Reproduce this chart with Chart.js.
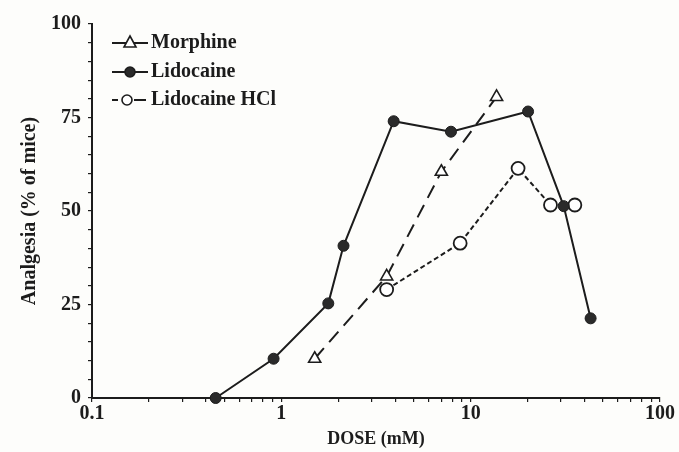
<!DOCTYPE html>
<html>
<head>
<meta charset="utf-8">
<script src="https://cdn.jsdelivr.net/npm/chart.js@4.4.0/dist/chart.umd.min.js"></script>
<style>
  html, body { margin: 0; padding: 0; background: #fdfdfb; }
  #wrap { width: 679px; height: 452px; position: relative; }
</style>
</head>
<body>
<div id="wrap"><canvas id="dose-chart" width="679" height="452"></canvas></div>
<script>
// values
const morphineDose = [1.5, 3.6, 7.0, 13.7];
const morphineAnalgesia = [10.5, 32.5, 60.5, 80.5];
const lidocaineDose = [0.45, 0.91, 1.77, 2.13, 3.92, 7.87, 20.1, 31, 43];
const lidocaineAnalgesia = [0, 10.5, 25.3, 40.7, 74, 71.2, 76.6, 51.3, 21.3];
const hclDose = [3.6, 8.8, 17.8, 26.4, 35.5];
const hclAnalgesia = [29, 41.4, 61.4, 51.6, 51.6];

const seriesNames = ['Morphine', 'Lidocaine', 'Lidocaine HCl'];
const xMajorTicks = [0.1, 1, 10, 100];
const yMajorTicks = [0, 25, 50, 75, 100];

const ink = '#1c1c1c';
const serif = '"Liberation Serif", "Times New Roman", serif';

function toPoints(xs, ys) {
  return xs.map((x, i) => ({ x, y: ys[i] }));
}

// minor ticks 2..9 in each decade
const xAllTicks = [];
for (let d = 0.1; d < 100; d *= 10) {
  for (let m = 1; m < 10; m++) xAllTicks.push(+(d * m).toPrecision(3));
}
xAllTicks.push(100);

// draws the little legend in the upper left
const legendBox = {
  id: 'legendBox',
  afterDatasetsDraw(chart) {
    const ctx = chart.ctx;
    const x0 = 112, x1 = 148, rows = [43, 72, 100];
    chart.data.datasets.forEach((ds, i) => {
      const y = rows[i];
      ctx.save();
      ctx.strokeStyle = ink;
      ctx.lineWidth = 2;
      ctx.beginPath();
      if (i === 2) {
        // "-o-" sample
        ctx.moveTo(x0, y); ctx.lineTo(x0 + 6, y);
        ctx.moveTo(x0 + 22, y); ctx.lineTo(x1 - 2, y);
      } else {
        ctx.moveTo(x0, y);
        ctx.lineTo(x1, y);
      }
      ctx.stroke();
      const cx = i === 2 ? x0 + 15 : (x0 + x1) / 2;
      ctx.lineWidth = 1.6;
      if (ds.pointStyle === 'triangle') {
        ctx.fillStyle = '#fff';
        ctx.beginPath();
        ctx.moveTo(cx, y - 7);
        ctx.lineTo(cx + 6, y + 4);
        ctx.lineTo(cx - 6, y + 4);
        ctx.closePath();
        ctx.fill();
        ctx.stroke();
      } else {
        ctx.fillStyle = ds.pointBackgroundColor;
        ctx.beginPath();
        ctx.arc(cx, y, 5, 0, Math.PI * 2);
        ctx.fill();
        ctx.stroke();
      }
      ctx.fillStyle = ink;
      ctx.font = 'bold 20px ' + serif;
      ctx.textBaseline = 'middle';
      ctx.fillText(seriesNames[i], 151, y);
      ctx.restore();
    });
  }
};

new Chart(document.getElementById('dose-chart'), {
  type: 'scatter',
  data: {
    datasets: [
      {
        label: seriesNames[0],
        data: toPoints(morphineDose, morphineAnalgesia),
        showLine: true,
        borderColor: ink,
        borderWidth: 2,
        borderDash: [14, 8],
        pointStyle: 'triangle',
        pointRadius: 7,
        pointBorderWidth: 1.6,
        pointBorderColor: ink,
        pointBackgroundColor: '#fff'
      },
      {
        label: seriesNames[1],
        data: toPoints(lidocaineDose, lidocaineAnalgesia),
        showLine: true,
        borderColor: ink,
        borderWidth: 2,
        pointStyle: 'circle',
        pointRadius: 5.5,
        pointBorderWidth: 1,
        pointBorderColor: ink,
        pointBackgroundColor: '#2a2a2a'
      },
      {
        label: seriesNames[2],
        data: toPoints(hclDose, hclAnalgesia),
        showLine: true,
        borderColor: ink,
        borderWidth: 2,
        borderDash: [5, 3],
        pointStyle: 'circle',
        pointRadius: 6.5,
        pointBorderWidth: 1.8,
        pointBorderColor: ink,
        pointBackgroundColor: '#fff'
      }
    ]
  },
  options: {
    responsive: false,
    animation: false,
    clip: false,
    layout: { padding: { left: 0, right: 19, top: 24, bottom: 0 } },
    plugins: { legend: { display: false }, tooltip: { enabled: false } },
    scales: {
      x: {
        type: 'logarithmic',
        min: 0.1,
        max: 100,
        afterBuildTicks: (scale) => { scale.ticks = xAllTicks.map(v => ({ value: v })); },
        afterFit: (scale) => { scale.height = 54; },
        border: { display: true, color: ink, width: 2 },
        grid: { drawOnChartArea: false, color: ink, tickLength: 4, lineWidth: 1.2 },
        ticks: {
          autoSkip: false,
          maxRotation: 0,
          padding: 0,
          color: ink,
          font: { family: serif, size: 20, weight: 'bold' },
          callback: (v) => xMajorTicks.includes(v) ? String(v) : ''
        },
        title: {
          display: true,
          text: 'DOSE (mM)',
          color: ink,
          font: { family: serif, size: 18, weight: 'bold' },
          padding: { top: 2, bottom: 2 }
        }
      },
      y: {
        min: 0,
        max: 100,
        afterBuildTicks: (scale) => {
          const t = [];
          for (let v = 0; v <= 100; v += 5) t.push({ value: v });
          scale.ticks = t;
        },
        afterFit: (scale) => { scale.width = 92; },
        border: { display: true, color: ink, width: 2 },
        grid: { drawOnChartArea: false, color: ink, tickLength: 4, lineWidth: 1.2 },
        ticks: {
          autoSkip: false,
          padding: 7,
          color: ink,
          font: { family: serif, size: 20, weight: 'bold' },
          callback: (v) => yMajorTicks.includes(v) ? String(v) : ''
        },
        title: {
          display: true,
          text: 'Analgesia (% of mice)',
          color: ink,
          font: { family: serif, size: 20, weight: 'bold' },
          padding: { top: 18, bottom: 0 }
        }
      }
    }
  },
  plugins: [legendBox]
});
</script>
</body>
</html>
